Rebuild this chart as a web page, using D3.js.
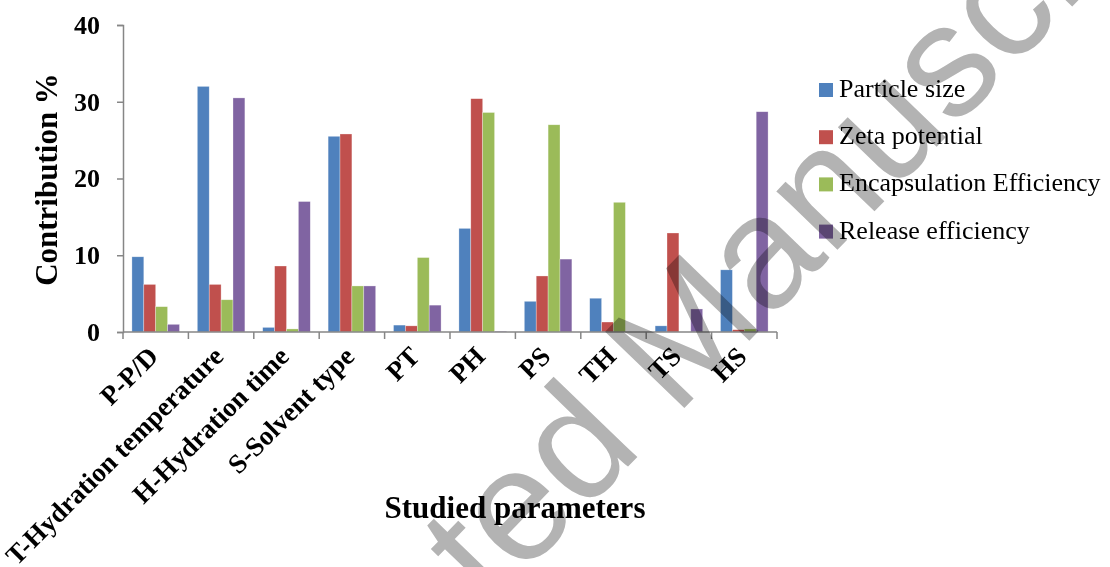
<!DOCTYPE html>
<html>
<head>
<meta charset="utf-8">
<script src="https://cdn.jsdelivr.net/npm/d3@7"></script>
<style>
  html, body { margin: 0; padding: 0; background: #fff; }
  svg { display: block; }
</style>
</head>
<body>
<svg id="chart" width="1110" height="567"></svg>
<script>
// Studied parameters (categories)
const categories = ["P-P/D", "T-Hydration temperature", "H-Hydration time", "S-Solvent type",
  "PT", "PH", "PS", "TH", "TS", "HS"];

// Contribution % per response
const particleSize   = [9.8, 32.0, 0.6, 25.5, 0.9, 13.5, 4.0, 4.4, 0.8, 8.1];
const zetaPotential  = [6.2, 6.2, 8.6, 25.8, 0.8, 30.4, 7.3, 1.3, 12.9, 0.3];
const encapsulation  = [3.3, 4.2, 0.4, 6.0, 9.7, 28.6, 27.0, 16.9, 0.0, 0.4];
const release        = [1.0, 30.5, 17.0, 6.0, 3.5, 0.1, 9.5, 0.0, 3.0, 28.7];

const seriesNames = ["Particle size", "Zeta potential", "Encapsulation Efficiency", "Release efficiency"];
const seriesColors = ["#4F81BD", "#C0504D", "#9BBB59", "#8064A2"];
const yTicks = [0, 10, 20, 30, 40];

const series = [particleSize, zetaPotential, encapsulation, release];

const svg = d3.select("#chart");
const plot = { left: 123, right: 777, top: 25, bottom: 332 };
const serif = "'Liberation Serif', 'Times New Roman', serif";

const x = d3.scaleBand().domain(categories).range([plot.left, plot.right]).paddingInner(0).paddingOuter(0);
const x1 = d3.scaleBand().domain(d3.range(series.length)).range([0, x.bandwidth()]).paddingInner(0).paddingOuter(0.75);
const y = d3.scaleLinear().domain([0, 40]).range([plot.bottom, plot.top]);

// bars
const groups = svg.append("g").selectAll("g")
  .data(categories)
  .join("g")
  .attr("transform", d => `translate(${x(d)},0)`);

groups.selectAll("rect")
  .data((d, i) => series.map((s, k) => ({ k, v: s[i] })))
  .join("rect")
  .attr("x", d => x1(d.k))
  .attr("width", x1.bandwidth())
  .attr("y", d => y(d.v))
  .attr("height", d => y(0) - y(d.v))
  .attr("fill", d => seriesColors[d.k])
  .attr("stroke", "#ffffff")
  .attr("stroke-opacity", 0.5)
  .attr("stroke-width", 0.6);

// y axis
const yAxis = svg.append("g")
  .attr("transform", `translate(${plot.left},0)`)
  .call(d3.axisLeft(y).tickValues(yTicks).tickSize(6).tickPadding(17).tickFormat(d3.format("d")));
yAxis.select(".domain").attr("stroke", "#868686").attr("stroke-width", 1.5);
yAxis.selectAll(".tick line").attr("stroke", "#868686").attr("stroke-width", 1.5);
yAxis.selectAll(".tick text")
  .attr("font-family", serif).attr("font-weight", "bold").attr("font-size", 26).attr("fill", "#000");

// x axis: line and tick marks at category boundaries
const xg = svg.append("g");
xg.append("line")
  .attr("x1", plot.left).attr("x2", plot.right)
  .attr("y1", plot.bottom).attr("y2", plot.bottom)
  .attr("stroke", "#868686").attr("stroke-width", 1.5);
const bounds = categories.map(c => x(c)).concat([x(categories[categories.length - 1]) + x.bandwidth()]);
xg.selectAll("line.tk").data(bounds).join("line").attr("class", "tk")
  .attr("x1", d => d).attr("x2", d => d)
  .attr("y1", plot.bottom).attr("y2", plot.bottom + 7)
  .attr("stroke", "#868686").attr("stroke-width", 1.5);

// rotated category labels
xg.selectAll("text.cat").data(categories).join("text").attr("class", "cat")
  .attr("transform", d => `translate(${x(d) + x.bandwidth() / 2 + 4},${plot.bottom + 26}) rotate(-45)`)
  .attr("text-anchor", "end")
  .attr("font-family", serif).attr("font-weight", "bold").attr("font-size", 27)
  .text(d => d);

// axis titles
svg.append("text")
  .attr("transform", "translate(57,179.5) rotate(-90)")
  .attr("text-anchor", "middle")
  .attr("font-family", serif).attr("font-weight", "bold").attr("font-size", 31)
  .text("Contribution %");

svg.append("text")
  .attr("x", 515).attr("y", 518)
  .attr("text-anchor", "middle")
  .attr("font-family", serif).attr("font-weight", "bold").attr("font-size", 31)
  .text("Studied parameters");

// legend
const legend = svg.append("g").attr("transform", "translate(819,83)");
const items = legend.selectAll("g").data(seriesNames).join("g")
  .attr("transform", (d, i) => `translate(0,${i * 47.2})`);
items.append("rect").attr("width", 14).attr("height", 14)
  .attr("fill", (d, i) => seriesColors[i]);
items.append("text").attr("x", 20).attr("y", 14)
  .attr("font-family", serif).attr("font-size", 26).attr("fill", "#000")
  .text(d => d);

// watermark
svg.append("text")
  .attr("transform", "translate(700,392) rotate(-46)")
  .attr("text-anchor", "middle")
  .attr("font-family", "'Liberation Sans', Arial, sans-serif")
  .attr("font-size", 160)
  .attr("fill", "#b3b3b3")
  .style("mix-blend-mode", "multiply")
  .text("Accepted Manuscript");
</script>
</body>
</html>
